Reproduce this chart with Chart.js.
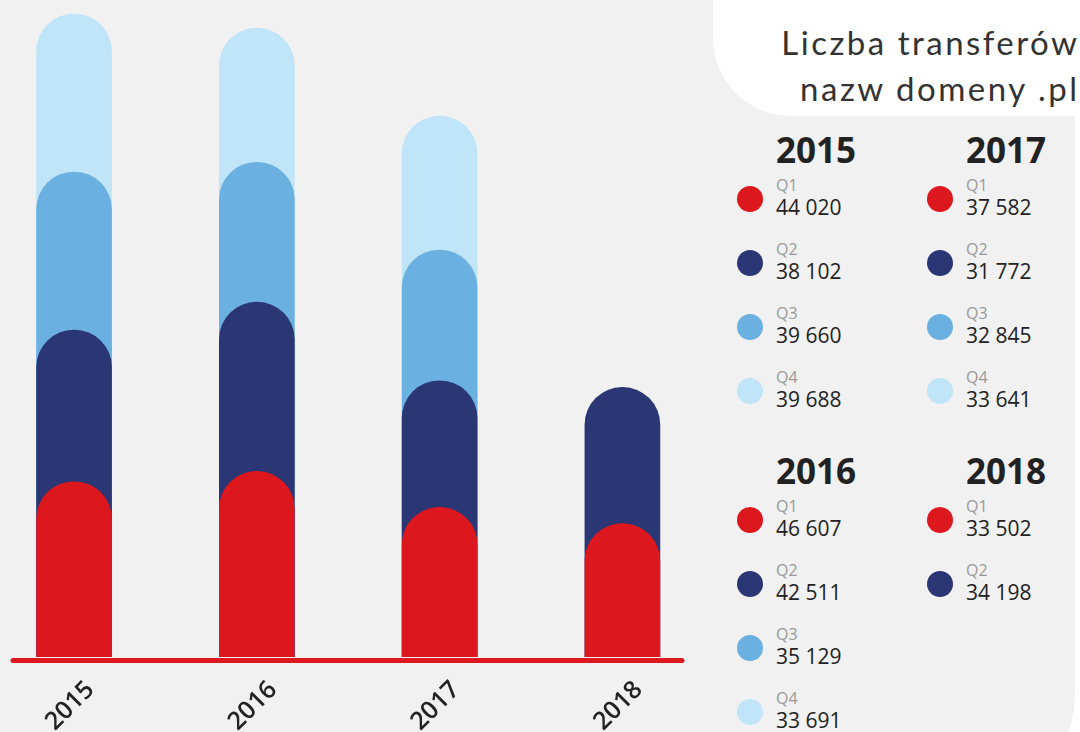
<!DOCTYPE html>
<html>
<head>
<meta charset="utf-8">
<script src="https://cdn.jsdelivr.net/npm/chart.js@4"></script>
<style>
  html, body { margin: 0; padding: 0; background: #ffffff; }
  body { width: 1080px; height: 732px; position: relative; overflow: hidden; font-family: "Open Sans", sans-serif; }
  #panel { position: absolute; left: 0; top: 0; width: 1075px; height: 813px; background: #f1f1f1; border-bottom-right-radius: 120px; }
  #titleBox { position: absolute; left: 713px; top: -10px; width: 400px; height: 126px; background: #ffffff; border-bottom-left-radius: 78px; }
  .title { position: absolute; right: 0; width: 400px; text-align: right; font-family: Lato, sans-serif; font-size: 33px; line-height: 1; letter-spacing: 2.5px; color: #333; white-space: nowrap; }
  #chartWrap { position: absolute; left: 0; top: 0; width: 700px; height: 732px; }
  .abs { position: absolute; line-height: 1; white-space: nowrap; }
  .head { font-size: 35px; font-weight: 700; color: #222; }
  .ql { font-size: 16px; font-weight: 400; color: #999; }
  .val { font-size: 21px; font-weight: 400; color: #222; }
  .dot { position: absolute; width: 26px; height: 26px; border-radius: 50%; }
</style>
</head>
<body>
<div id="panel"></div>
<div id="titleBox"></div>
<div class="title" style="top:26px; right:0.5px">Liczba transferów</div>
<div class="title" style="top:72px; right:0.5px">nazw domeny .pl</div>
<div id="chartWrap"><canvas id="myChart"></canvas></div>
<div id="legend"></div>
<script>
// data
const years = [2015, 2016, 2017, 2018];
const quarters = ['Q1', 'Q2', 'Q3', 'Q4'];
const q1 = [44020, 46607, 37582, 33502];
const q2 = [38102, 42511, 31772, 34198];
const q3 = [39660, 35129, 32845, null];
const q4 = [39688, 33691, 33641, null];
const colors = ['#dc181e', '#2b3674', '#6ab0e0', '#c0e4f8'];

const series = [q1, q2, q3, q4];

// each bar is drawn from zero up to the running total, smaller ones in front
const cumulative = series.map((s, q) => years.map((y, i) => {
    if (s[i] == null) return null;
    let sum = 0;
    for (let k = 0; k <= q; k++) sum += series[k][i];
    return sum;
}));

function fmt(n) {
    return String(n).replace(/\B(?=(\d{3})+(?!\d))/g, ' ');
}

// baseline + rotated year labels
const decorPlugin = {
    id: 'decor',
    afterDatasetsDraw(chart) {
        const ctx = chart.ctx;
        const area = chart.chartArea;
        ctx.save();
        ctx.strokeStyle = '#dc181e';
        ctx.lineWidth = 5;
        ctx.lineCap = 'round';
        ctx.beginPath();
        ctx.moveTo(area.left + 2, area.bottom + 3.5);
        ctx.lineTo(area.right - 2, area.bottom + 3.5);
        ctx.stroke();
        ctx.restore();

        const xs = chart.scales.x;
        ctx.save();
        ctx.fillStyle = '#222';
        ctx.font = '600 25px "Open Sans"';
        ctx.textAlign = 'center';
        ctx.textBaseline = 'middle';
        years.forEach(y => {
            ctx.save();
            ctx.translate(xs.getPixelForValue(y) - 4, area.bottom + 49);
            ctx.rotate(-Math.PI / 4);
            ctx.fillText(String(y), 0, 0);
            ctx.restore();
        });
        ctx.restore();
    }
};

const ctx = document.getElementById('myChart').getContext('2d');
const myChart = new Chart(ctx, {
    type: 'bar',
    data: {
        datasets: quarters.map((q, idx) => ({
            label: q,
            data: years.map((y, i) => ({ x: y, y: cumulative[idx][i] })).filter(p => p.y != null),
            backgroundColor: colors[idx],
            barThickness: 75,
            grouped: false,
            borderWidth: 0,
            borderSkipped: 'bottom',
            borderRadius: { topLeft: 37.5, topRight: 37.5, bottomLeft: 0, bottomRight: 0 },
        })),
    },
    options: {
        responsive: true,
        maintainAspectRatio: false,
        animation: false,
        devicePixelRatio: 1,
        layout: { padding: { left: 11, right: 16, top: 0, bottom: 0 } },
        plugins: {
            legend: { display: false },
            tooltip: { enabled: false },
        },
        scales: {
            x: {
                type: 'linear',
                offset: false,
                min: 2014.655,
                max: 2018.337,
                grid: { display: false, offset: false },
                border: { display: false },
                ticks: { display: false },
                afterFit: s => { s.height = 75; },
            },
            y: {
                display: false,
                min: 0,
                max: 165000,
            },
        },
    },
    plugins: [decorPlugin],
});

// side legend, built from the same arrays
const legend = document.getElementById('legend');
const blocks = [
    { i: 0, col: 0, row: 0 },
    { i: 2, col: 1, row: 0 },
    { i: 1, col: 0, row: 1 },
    { i: 3, col: 1, row: 1 },
];
blocks.forEach(b => {
    const dx = b.col * 190;
    const dy = b.row * 321;
    const head = document.createElement('div');
    head.className = 'abs head';
    head.style.left = (776 + dx) + 'px';
    head.style.top = (132 + dy) + 'px';
    head.textContent = years[b.i];
    legend.appendChild(head);
    series.forEach((s, q) => {
        if (s[b.i] == null) return;
        const ry = dy + q * 64;
        const dot = document.createElement('div');
        dot.className = 'dot';
        dot.style.background = colors[q];
        dot.style.left = (737 + dx) + 'px';
        dot.style.top = (186 + ry) + 'px';
        legend.appendChild(dot);
        const ql = document.createElement('div');
        ql.className = 'abs ql';
        ql.style.left = (776 + dx) + 'px';
        ql.style.top = (177 + ry) + 'px';
        ql.textContent = quarters[q];
        legend.appendChild(ql);
        const val = document.createElement('div');
        val.className = 'abs val';
        val.style.left = (776 + dx) + 'px';
        val.style.top = (197 + ry) + 'px';
        val.textContent = fmt(s[b.i]);
        legend.appendChild(val);
    });
});
</script>
</body>
</html>
